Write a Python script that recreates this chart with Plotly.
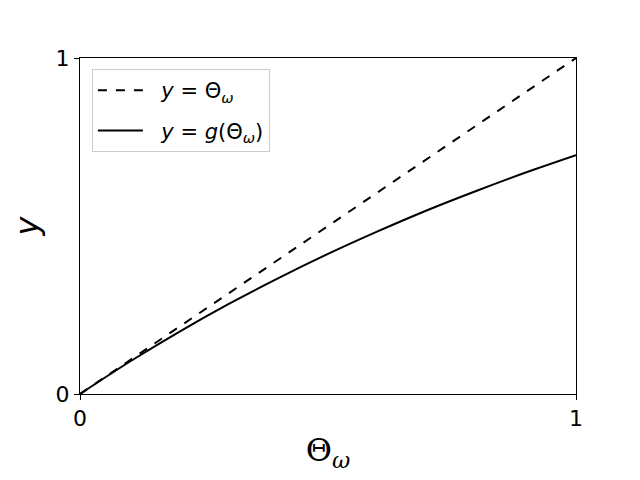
import plotly.graph_objects as go

# theta values and curve
theta = [0.0, 0.1, 0.2, 0.3, 0.4, 0.5, 0.6, 0.7, 0.8, 0.9, 1.0]
identity = [0.0, 0.1, 0.2, 0.3, 0.4, 0.5, 0.6, 0.7, 0.8, 0.9, 1.0]
g_theta = [0.0, 0.096, 0.185, 0.268, 0.345, 0.417, 0.484, 0.547, 0.605, 0.66, 0.711]

fig = go.Figure()
fig.add_trace(go.Scatter(x=theta, y=identity, mode="lines", legendgroup="a",
                         line=dict(color="black", width=2, dash="dash"),
                         name="&nbsp;&nbsp;<i>y</i> = Θ<sub><i>ω</i></sub>"))
fig.add_trace(go.Scatter(x=theta, y=g_theta, mode="lines", line_shape="spline", legendgroup="b",
                         line=dict(color="black", width=2),
                         name="&nbsp;&nbsp;<i>y</i> = <i>g</i>(Θ<sub><i>ω</i></sub>)"))

axis_style = dict(range=[0, 1], tickvals=[0, 1], showgrid=False, zeroline=False,
                  showline=True, linecolor="black", linewidth=1, mirror=True,
                  ticks="outside", ticklen=5, tickcolor="black",
                  tickfont=dict(size=22, color="black"))

fig.update_xaxes(title=dict(text="Θ<sub><i>ω</i></sub>", font=dict(size=32, family="DejaVu Serif"), standoff=8),
                 **axis_style)
fig.update_yaxes(title=dict(text="<i>y</i>", font=dict(size=32), standoff=14), **axis_style)

fig.update_layout(
    width=640, height=480,
    # page body adds 8px, so margins are offset to put the axes box at 80..576 x 58..394
    margin=dict(l=72, r=72, t=50, b=94),
    plot_bgcolor="white", paper_bgcolor="white",
    font=dict(family="DejaVu Sans", color="black"),
    legend=dict(x=0.024, y=0.967, xanchor="left", yanchor="top",
                bgcolor="white", bordercolor="#cccccc", borderwidth=1,
                itemwidth=45, tracegroupgap=10,
                font=dict(size=21)),
)
fig.write_html("out.html")
